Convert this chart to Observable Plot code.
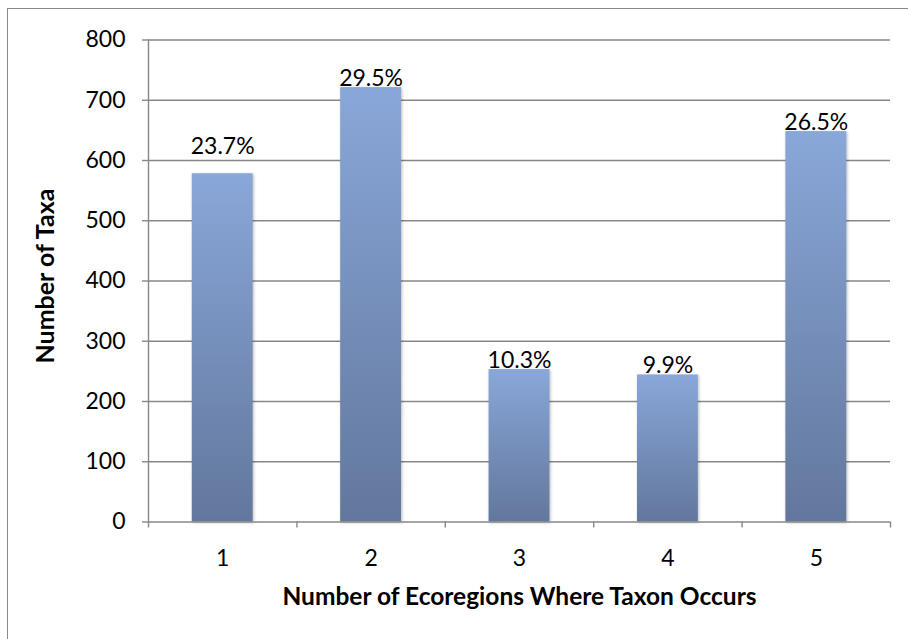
<!DOCTYPE html>
<html>
<head>
<meta charset="utf-8">
<script src="https://cdn.jsdelivr.net/npm/d3@7"></script>
<script src="https://cdn.jsdelivr.net/npm/@observablehq/plot@0.6"></script>
<style>
  html, body { margin: 0; padding: 0; background: #fff; }
  #wrap { position: relative; width: 908px; height: 639px; overflow: hidden; }
  #frame { position: absolute; left: 7px; top: 8px; width: 1200px; height: 1200px;
           border-left: 1.5px solid #8a8a8a; border-top: 1.5px solid #8a8a8a; pointer-events: none; }
  svg { display: block; }
</style>
</head>
<body>
<div id="wrap"><div id="frame"></div></div>
<script>
const categories = [1, 2, 3, 4, 5];
const counts = [578, 721, 253, 244, 648];
const pctLabels = ["23.7%", "29.5%", "10.3%", "9.9%", "26.5%"];
const yTicks = [0, 100, 200, 300, 400, 500, 600, 700, 800];
const xTitle = "Number of Ecoregions Where Taxon Occurs";
const yTitle = "Number of Taxa";

const data = categories.map((c, i) => ({cat: c, count: counts[i], pct: pctLabels[i]}));
const boundaries = categories.map(c => c - 0.5).concat([categories[categories.length - 1] + 0.5]);
const halfBar = 0.205;
const font = "Lato, 'Open Sans', sans-serif";
const gridColor = "#878787";

const chart = Plot.plot({
  width: 908,
  height: 639,
  marginLeft: 148,
  marginRight: 18,
  marginTop: 39.5,
  marginBottom: 117.5,
  style: {fontFamily: font, fontSize: "23px", color: "#000", background: "transparent"},
  x: {type: "linear", domain: [boundaries[0], boundaries[boundaries.length - 1]], label: null},
  y: {domain: [0, 800], label: null},
  marks: [
    Plot.gridY(yTicks.filter(t => t > 0), {stroke: gridColor, strokeOpacity: 1, strokeWidth: 1.4}),
    Plot.rectY(data, {x1: d => d.cat - halfBar, x2: d => d.cat + halfBar, y1: 0, y2: "count", fill: "url(#barGrad)"}),
    Plot.text(data.filter(d => d.cat === 1), {x: "cat", y: "count", text: "pct", lineAnchor: "bottom", dy: -20, fontSize: 23, fill: "#000"}),
    Plot.text(data.filter(d => d.cat !== 1), {x: "cat", y: "count", text: "pct", lineAnchor: "bottom", dy: -2, fontSize: 23, fill: "#000"}),
    Plot.ruleY([0], {stroke: gridColor, strokeWidth: 1.4}),
    Plot.ruleX([boundaries[0]], {y1: 0, y2: 800, stroke: gridColor, strokeWidth: 1.4}),
    Plot.axisY({ticks: yTicks, tickSize: 6, tickPadding: 17, stroke: gridColor, strokeWidth: 1.4, fill: "#000", fontSize: 23, label: null}),
    Plot.axisX({ticks: boundaries, tickSize: 6, tickFormat: () => "", stroke: gridColor, strokeWidth: 1.4, label: null}),
    Plot.axisX({ticks: categories, tickSize: 0, tickPadding: 28, tickFormat: d => String(d), fill: "#000", fontSize: 23, label: null}),
    Plot.text([xTitle], {frameAnchor: "bottom", dy: 83, fontWeight: "bold", fontSize: 24.5, fill: "#000"}),
    Plot.text([yTitle], {frameAnchor: "left", textAnchor: "middle", dx: -103, dy: -5, rotate: -90, fontWeight: "bold", fontSize: 25, fill: "#000"})
  ]
});

const svg = d3.select(chart);
const defs = svg.insert("defs", ":first-child");
const g = defs.append("linearGradient").attr("id", "barGrad").attr("x1", 0).attr("y1", 0).attr("x2", 0).attr("y2", 1);
g.append("stop").attr("offset", "0%").attr("stop-color", "#89a7d9");
g.append("stop").attr("offset", "100%").attr("stop-color", "#62779c");
svg.selectAll('g[aria-label="rect"] rect').style("filter", "drop-shadow(1.5px 1px 1.5px rgba(0,0,0,0.28))");

document.getElementById("wrap").insertBefore(chart, document.getElementById("frame"));
</script>
</body>
</html>
